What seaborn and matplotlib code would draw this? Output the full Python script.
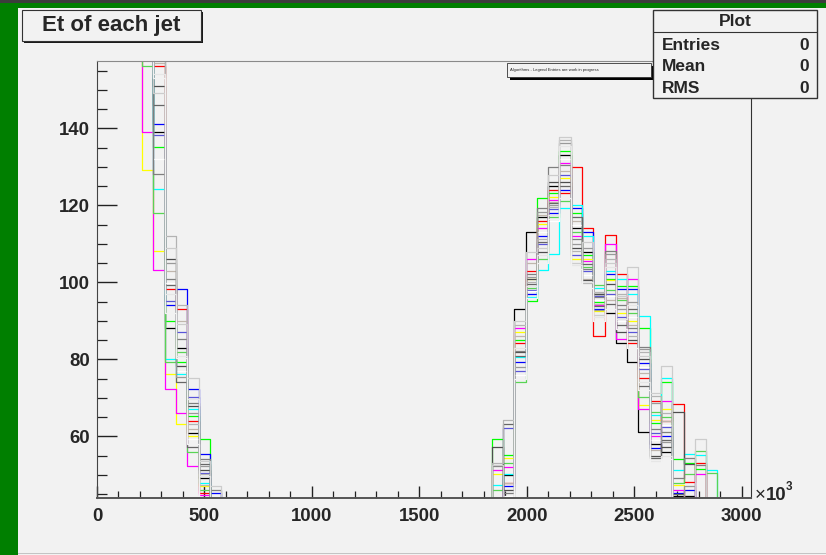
import numpy as np
import pandas as pd
import matplotlib
matplotlib.use("Agg")
import matplotlib.pyplot as plt
from matplotlib.patches import Rectangle
import seaborn as sns

# ---------------------------------------------------------------------------
# Binning (Et in units of 10^3): 60 bins of width 52.5 starting at 0
# ---------------------------------------------------------------------------
bin_width = 52.5
n_bins = 60
low_start = 0      # first bin of the low-Et block
high_start = 35    # first bin of the high-Et block

# Bin contents per jet collection: low-Et block (bins 0-10), high-Et block (bins 35-54)
black_low = [580, 420, 290, 200, 175, 139.1, 88.1, 83.0, 61.0, 49.3, 38]
black_high = [40, 50, 93.2, 113.2, 117.0, 125.0, 133.1, 114.1, 108.0, 97.1,
              92.1, 84.3, 79.4, 61.2, 58.0, 56.0, 44.6, 44.5, 38, 30]
red_low = [560, 430, 300, 210, 180, 156.2, 98.2, 93.2, 64.0, 45.4, 40]
red_high = [42, 48, 84.2, 103.0, 116.0, 124.0, 123.1, 130.0, 114.2, 86.2,
            112.2, 102.1, 84.3, 75.2, 69.2, 64.0, 68.3, 48.1, 53.2, 35]
green_low = [590, 410, 295, 205, 170, 135.2, 90.1, 79.3, 65.3, 59.2, 42]
green_high = [59.4, 55.2, 85.0, 95.1, 122.0, 123.1, 134.1, 118.1, 107.0, 95.0,
              101.0, 99.0, 99.0, 88.2, 63.4, 74.2, 54.2, 53.2, 51.5, 38]
blue_low = [570, 415, 285, 198, 168, 141.2, 94.0, 98.2, 72.4, 55.3, 45.4]
blue_high = [38, 47, 79.2, 97.1, 112.0, 118.1, 124.0, 119.2, 113.1, 93.2,
             102.1, 98.2, 98.2, 79.0, 57.0, 60.0, 45.4, 46.2, 40, 32]
yellow_low = [550, 400, 280, 190, 129.1, 108.1, 76.1, 63.3, 60.0, 47.0, 36]
yellow_high = [50.3, 54.3, 87.2, 100.8, 115.1, 122.2, 127.0, 106.2, 106.0, 92.5,
               100.5, 92.0, 90.0, 68.1, 64.2, 67.0, 47.3, 43.0, 41, 33]
magenta_low = [545, 395, 275, 185, 139.1, 103.1, 72.4, 66.2, 52.3, 44.7, 30]
magenta_high = [51.4, 52.0, 88.1, 106.2, 114.2, 121.3, 131.1, 112.0, 105.5, 94.1,
                110.1, 85.2, 101.0, 67.0, 60.0, 69.2, 46.0, 44.1, 50.3, 36]
cyan_low = [575, 420, 290, 200, 172, 124.2, 80.2, 76.1, 67.0, 48.0, 39]
cyan_high = [47.3, 50.3, 80.5, 96.2, 103.2, 107.5, 119.2, 120.0, 112.0, 98.5,
             103.0, 101.0, 97.1, 91.2, 65.5, 75.2, 51.4, 55.3, 55.1, 51.4]
lgreen_low = [565, 405, 288, 195, 156.2, 118.1, 79.3, 82.0, 56.0, 46.0, 35]
lgreen_high = [46.2, 53.2, 74.1, 98.5, 106.2, 117.0, 121.2, 113.1, 104.1, 99.2,
               98.0, 95.5, 92.1, 70.2, 66.4, 65.0, 48.0, 50.3, 56.3, 50.4]
violet_low = [578, 425, 292, 202, 176, 138.2, 95.1, 87.0, 70.2, 50.5, 41]
violet_high = [41, 62.2, 77.0, 98.0, 110.0, 119.0, 128.0, 107.1, 103.0, 96.5,
               97.0, 91.0, 87.1, 77.5, 61.0, 62.5, 43.0, 40, 36, 30]
white_low = [555, 412, 287, 199, 166, 132.1, 99.9, 77.0, 59.2, 42.0, 33]
white_high = [35, 44.5, 76.0, 97.8, 113.0, 116.0, 132.0, 115.0, 102.0, 95.5,
              96.5, 90.0, 91.0, 78.0, 59.0, 63.0, 42.0, 39, 34, 28]
beige_low = [585, 418, 296, 206, 178, 157.0, 103.0, 90.0, 62.0, 47.5, 37]
beige_high = [43, 48, 86.0, 105.0, 117.5, 121.0, 129.0, 116.0, 101.0, 94.5,
              95.5, 96.0, 89.0, 76.5, 56.5, 64.0, 41.0, 38, 35, 27]
gray30_low = [572, 428, 298, 208, 182, 151.0, 106.2, 78.3, 67.8, 51.2, 40]
gray30_high = [57.3, 46, 82.0, 101.0, 108.0, 126.0, 126.0, 109.0, 100.5, 97.1,
               99.5, 87.1, 85.0, 80.2, 55.0, 57.3, 66.3, 52.9, 42, 31]
gray40_low = [562, 408, 284, 196, 171, 146.2, 99.2, 74.2, 57.3, 52.8, 38]
gray40_high = [39, 63.3, 81.0, 99.5, 110.5, 120.5, 125.0, 117.0, 104.8, 93.8,
               94.5, 89.0, 93.0, 73.0, 54.5, 59.0, 45.0, 41, 37, 29]
gray50_low = [568, 416, 291, 203, 174, 128.2, 101.0, 85.2, 68.7, 54.0, 46.2]
gray50_high = [52.2, 45.4, 82.3, 102.1, 119.2, 130.0, 130.5, 111.2, 103.5, 96.1,
               108.1, 94.1, 88.1, 83.3, 62.0, 61.2, 49.3, 54.5, 52.5, 40]
gray60_low = [588, 422, 299, 209, 185, 159.0, 105.1, 75.5, 66.2, 52.3, 39]
gray60_high = [42, 43, 78.0, 101.5, 118.3, 120.1, 136.2, 110.0, 109.0, 92.8,
               107.3, 93.2, 95.0, 82.6, 68.6, 58.5, 40.0, 47.0, 39, 31]
gray70_low = [576, 426, 302, 212, 188, 162.0, 112.1, 94.0, 63.3, 50.3, 36]
gray70_high = [53.2, 64.2, 89.0, 100.1, 111.2, 119.5, 137.0, 108.1, 99.8, 97.5,
               106.2, 97.0, 86.0, 81.8, 70.4, 66.0, 39.0, 42, 38, 30]
gray80_low = [582, 432, 305, 214, 190, 149.3, 109.0, 89.3, 75.2, 53.5, 47.1]
gray80_high = [52.6, 40.0, 90.1, 108.0, 109.0, 128.0, 137.8, 105.1, 110.5, 91.4,
               105.1, 96.5, 104.1, 81.0, 71.3, 78.3, 40.0, 41.0, 59.2, 39]
gray90_low = [558, 402, 282, 194, 169, 154.0, 97.0, 81.0, 69.7, 49.8, 34]
gray90_high = [37, 44, 83.0, 99.0, 107.0, 117.5, 135.4, 104.5, 100.0, 91.0,
               104.1, 90.5, 94.0, 74.0, 53.5, 55.0, 38.0, 37, 33, 27]
gray95_low = [566, 414, 289, 201, 173, 153.0, 92.0, 80.3, 58.0, 43.0, 32]
gray95_high = [36, 42, 75.0, 96.0, 105.0, 116.5, 122.0, 103.5, 98.5, 90.0,
               93.0, 88.0, 83.0, 72.0, 52.0, 54.0, 37.0, 36, 32, 26]

# Line colours of the classic ROOT palette, indices 1-19
series = [
    ("#000000", black_low, black_high),
    ("#ff0000", red_low, red_high),
    ("#00ff00", green_low, green_high),
    ("#0000ff", blue_low, blue_high),
    ("#ffff00", yellow_low, yellow_high),
    ("#ff00ff", magenta_low, magenta_high),
    ("#00ffff", cyan_low, cyan_high),
    ("#59d454", lgreen_low, lgreen_high),
    ("#5954d9", violet_low, violet_high),
    ("#fefefe", white_low, white_high),
    ("#c0b6ac", beige_low, beige_high),
    ("#4d4d4d", gray30_low, gray30_high),
    ("#666666", gray40_low, gray40_high),
    ("#7f7f7f", gray50_low, gray50_high),
    ("#999999", gray60_low, gray60_high),
    ("#b3b3b3", gray70_low, gray70_high),
    ("#cccccc", gray80_low, gray80_high),
    ("#e6e6e6", gray90_low, gray90_high),
    ("#f2f2f2", gray95_low, gray95_high),
]

x_major = [0, 500, 1000, 1500, 2000, 2500, 3000]
y_major = [60, 80, 100, 120, 140]

# ---------------------------------------------------------------------------
sns.set_style("ticks")
plt.rcParams["font.family"] = ["Liberation Sans", "DejaVu Sans"]

W, H = 826, 555
CANVAS = "#f2f2f2"
fig = plt.figure(figsize=(W / 100, H / 100), dpi=100)
fig.patch.set_facecolor(CANVAS)


def box(x0, y0, x1, y1, **kw):
    """Rectangle given in pixel coordinates measured from the top-left corner."""
    r = Rectangle((x0 / W, 1 - y1 / H), (x1 - x0) / W, (y1 - y0) / H,
                  transform=fig.transFigure, **kw)
    fig.add_artist(r)
    return r


def ftext(x, y, s, **kw):
    return fig.text(x / W, 1 - y / H, s, **kw)


# window frame
box(0, 0, 18, H, facecolor="#007f00", edgecolor="none", zorder=-5)
box(0, 0, W, 8, facecolor="#007f00", edgecolor="none", zorder=-5)
box(0, 0, W, 2.5, facecolor="#3c3c3c", edgecolor="none", zorder=-4)
box(18, 552.5, W, 553.5, facecolor="#c4c4c4", edgecolor="none", zorder=-4)

ax = fig.add_axes([97 / W, 1 - 498 / H, (751 - 97) / W, (498 - 61) / H])
ax.set_facecolor(CANVAS)

edges = (np.arange(n_bins + 1) * bin_width).tolist()
centers = [e + bin_width / 2 for e in edges[:-1]]
for color, low, high in series:
    counts = np.zeros(n_bins)
    counts[low_start:low_start + len(low)] = low
    counts[high_start:high_start + len(high)] = high
    frame = pd.DataFrame({"et": centers, "n": counts})
    sns.histplot(data=frame, x="et", weights="n", bins=edges, element="step",
                 fill=False, color=color, linewidth=0.9, ax=ax)

ax.set_xlim(0, 3044)
ax.set_ylim(44.0, 157.5)
ax.set_xlabel("")
ax.set_ylabel("")

ax.set_xticks(x_major)
ax.set_xticks(np.arange(0, 3041, 100), minor=True)
ax.set_yticks(y_major)
ax.set_yticks(np.arange(45, 157, 5), minor=True)
ax.tick_params(axis="y", which="major", direction="in", length=14.4, width=1.0,
               color="#222222", pad=5, labelsize=13.4)
ax.tick_params(axis="y", which="minor", direction="in", length=7.2, width=0.9,
               color="#222222")
ax.tick_params(axis="x", which="major", direction="in", length=9, width=1.0,
               color="#222222", pad=7, labelsize=13.4)
ax.tick_params(axis="x", which="minor", direction="in", length=5, width=0.9,
               color="#222222")
for lbl in ax.get_xticklabels() + ax.get_yticklabels():
    lbl.set_fontweight("bold")

ax.spines["left"].set_color("#444444")
ax.spines["bottom"].set_color("#555555")
ax.spines["bottom"].set_linewidth(1.4)
ax.spines["top"].set_color("#8a8a8a")
ax.spines["right"].set_color("#333333")
for s in ax.spines.values():
    s.set_zorder(5)

# exponent of the x axis
ftext(755, 500, "×", fontsize=13.4, ha="left", va="baseline")
ftext(766, 500, "10", fontsize=13.4, fontweight="bold", ha="left", va="baseline")
ftext(786, 490, "3", fontsize=8.4, fontweight="bold", ha="left", va="baseline")

# title box
box(24, 12, 203, 43, facecolor="#1a1a1a", edgecolor="none", zorder=3)
box(22, 9.5, 201, 40.5, facecolor=CANVAS, edgecolor="#333333", linewidth=0.8, zorder=4)
ftext(111.5, 25.5, "Et of each jet", fontsize=16, fontweight="bold",
      ha="center", va="center", zorder=5)

# legend box
box(509.5, 65.5, 654, 79.5, facecolor="#000000", edgecolor="none", zorder=3)
box(506.5, 62.5, 651, 76.5, facecolor=CANVAS, edgecolor="#333333", linewidth=0.6, zorder=4)
ftext(510.5, 69.5, "Algorithms - Legend Entries are work in progress", fontsize=3,
      ha="left", va="center", color="#222222", zorder=5)

# statistics box
box(653, 9.5, 817, 97.5, facecolor=CANVAS, edgecolor="#333333", linewidth=1.0, zorder=6)
fig.add_artist(plt.Line2D([653 / W, 817 / W], [1 - 32 / H, 1 - 32 / H],
                          transform=fig.transFigure, color="#333333", lw=0.8, zorder=7))
ftext(735, 21.5, "Plot", fontsize=12.5, fontweight="bold", ha="center", va="center", zorder=7)
for y, name in [(45, "Entries"), (66.5, "Mean"), (88.5, "RMS")]:
    ftext(662, y, name, fontsize=12.5, fontweight="bold", ha="left", va="center", zorder=7)
    ftext(808.5, y, "0", fontsize=12.5, fontweight="bold", ha="right", va="center", zorder=7)

fig.savefig("out.png", dpi=100, facecolor=fig.get_facecolor())
